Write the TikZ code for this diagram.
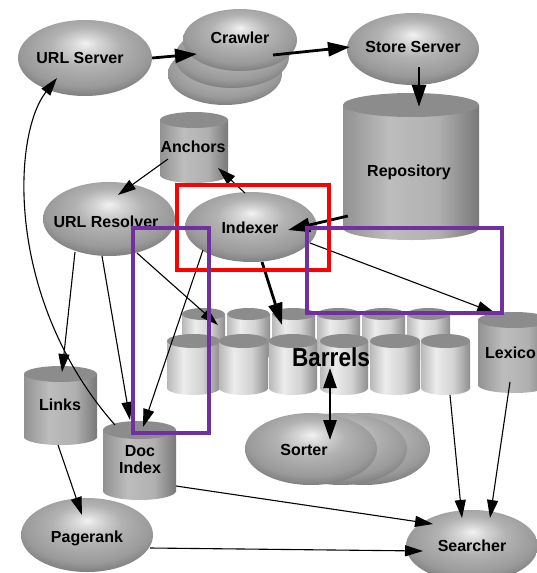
\documentclass[tikz,border=0pt]{standalone}
\usepackage{fontspec}
\setmainfont{Liberation Sans}
\usetikzlibrary{shapes.geometric,arrows.meta,calc}
\definecolor{ehl}{HTML}{F2F2F2}
\definecolor{ehltwo}{HTML}{D6D6D6}
\definecolor{emid}{HTML}{B2B2B2}
\definecolor{emidtwo}{HTML}{9A9A9A}
\definecolor{eedge}{HTML}{6C6C6C}
\definecolor{cylL}{HTML}{929292}
\definecolor{cylM}{HTML}{BDBDBD}
\definecolor{cylMtwo}{HTML}{B0B0B0}
\definecolor{cylR}{HTML}{787878}
\definecolor{barL}{HTML}{B8B8B8}
\definecolor{barM}{HTML}{ECECEC}
\definecolor{barMtwo}{HTML}{D2D2D2}
\definecolor{barR}{HTML}{8E8E8E}
\definecolor{cyltopc}{HTML}{8C8C8C}
\definecolor{annred}{HTML}{FF0000}
\definecolor{annpurple}{HTML}{7030A0}
\pgfdeclareradialshading{ellshade}{\pgfpoint{0bp}{10bp}}{color(0bp)=(ehl); color(5bp)=(ehltwo); color(13bp)=(emid); color(24bp)=(emidtwo); color(33bp)=(eedge); color(50bp)=(eedge)}
\pgfdeclarehorizontalshading{cylshade}{100bp}{color(0bp)=(cylL); color(25bp)=(cylL); color(42bp)=(cylM); color(60bp)=(cylMtwo); color(75bp)=(cylR); color(100bp)=(cylR)}
\pgfdeclarehorizontalshading{barshade}{100bp}{color(0bp)=(barL); color(25bp)=(barL); color(40bp)=(barM); color(58bp)=(barMtwo); color(75bp)=(barR); color(100bp)=(barR)}
\newcommand{\cylinderdraw}[6]{%
  \pgfmathsetmacro{\cylcx}{(#1+#2)/2}%
  \pgfmathsetmacro{\cylrx}{(#2-#1)/2}%
  \shade[shading=#6] (\cylcx,#4) ellipse[x radius=\cylrx, y radius=#5];
  \shade[shading=#6] (#1,#3) rectangle (#2,#4);
  \fill[cyltopc] (\cylcx,#3) ellipse[x radius=\cylrx, y radius=#5];
}
\begin{document}
\begin{tikzpicture}[x=1pt,y=-1pt,
  ell/.style={ellipse, shade, shading=ellshade, inner sep=0pt},
  cylnode/.style={rectangle, inner sep=0pt},
  lbl/.style={font=\bfseries\fontsize{16}{17}\selectfont, inner sep=0pt, align=center},
  thickarr/.style={line width=2.8pt, -{Triangle[length=22pt,width=14pt]}},
  thinarr/.style={line width=1.1pt, -{Triangle[length=18pt,width=11pt]}},
  dblarr/.style={line width=2.8pt, {Triangle[length=20pt,width=13pt]}-{Triangle[length=20pt,width=13pt]}},
  annframe/.style={line width=3.2pt},
]
\useasboundingbox (0,0) rectangle (537,573);
\fill[white] (0,0) rectangle (537,573);
\begin{scope}
\clip (0,0) rectangle (537,573);
% ellipses
\node[ell, minimum width=134pt, minimum height=76pt] (urlserver) at (85,58) {};
\shade[shading=ellshade] (225,74) ellipse[x radius=57, y radius=31];
\shade[shading=ellshade] (232,57) ellipse[x radius=57, y radius=31];
\node[ell, minimum width=114pt, minimum height=62pt] (crawler) at (240,40) {};
\node[ell, minimum width=132pt, minimum height=72pt] (storeserver) at (413,49) {};
\node[ell, minimum width=132pt, minimum height=74pt] (urlres) at (109,219) {};
\node[ell, minimum width=132pt, minimum height=70pt] (indexer) at (251,227) {};
\node[ell, minimum width=132pt, minimum height=74pt] (pagerank) at (87,535) {};
\node[ell, minimum width=132pt, minimum height=72pt] (searcher) at (472,546) {};
\shade[shading=ellshade] (364,449) ellipse[x radius=66, y radius=36];
\shade[shading=ellshade] (341,449) ellipse[x radius=66, y radius=36];
\node[ell, minimum width=132pt, minimum height=72pt] (sorter) at (311,449) {};
% cylinders
\cylinderdraw{343}{479}{105}{228}{12}{cylshade}
\node[cylnode, minimum width=136pt, minimum height=147pt] (repo) at (411,166.5) {};
\cylinderdraw{160}{228}{120}{175}{8}{cylshade}
\node[cylnode, minimum width=68pt, minimum height=71pt] (anchors) at (194,147.5) {};
\cylinderdraw{24}{97}{374}{437}{8}{cylshade}
\node[cylnode, minimum width=73pt, minimum height=79pt] (links) at (60.5,405.5) {};
\cylinderdraw{103}{176}{430}{491}{9}{cylshade}
\node[cylnode, minimum width=73pt, minimum height=79pt] (docindex) at (139.5,460.5) {};
\cylinderdraw{478}{550}{320}{385}{8}{cylshade}
\node[cylnode, minimum width=72pt, minimum height=81pt] (lexicon) at (514,352.5) {};
% barrels
\foreach \a/\b/\n in {182/225/bk1, 227/270/bk2, 272/315/bk3, 317/360/bk4, 362/405/bk5, 407/450/bk6} {
  \cylinderdraw{\a}{\b}{314}{355}{6}{barshade}
  \node[cylnode, minimum width={(\b-\a)*1pt}, minimum height=53pt] (\n) at ({(\a+\b)/2},334.5) {};
}
\foreach \a/\b/\n in {167/220/fr1, 219/268/fr2, 269/317/fr3, 320/368/fr4, 370/420/fr5, 421/470/fr6} {
  \cylinderdraw{\a}{\b}{341}{388}{7}{barshade}
  \node[cylnode, minimum width={(\b-\a)*1pt}, minimum height=61pt] (\n) at ({(\a+\b)/2},364.5) {};
}
% labels
\node[lbl] (turlserver) at (80,58) {URL Server};
\node[lbl] (tcrawler) at (240,38) {Crawler};
\node[lbl] (tstore) at (413,47) {Store Server};
\node[lbl] (trepo) at (409,172) {Repository};
\node[lbl] (tanchors) at (193,147) {Anchors};
\node[lbl] (turlres) at (106,222) {URL Resolver};
\node[lbl] (tindexer) at (250,228) {Indexer};
\node[lbl] (tlinks) at (60,405) {Links};
\node[lbl] (tdoc) at (140,460) {Doc\\Index};
\node[lbl] (tpagerank) at (87,538) {Pagerank};
\node[lbl] (tsearcher) at (472,546) {Searcher};
\node[lbl] (tsorter) at (304,450) {Sorter};
\node[lbl, anchor=west] (tlex) at (485,353) {Lexico};
\node[font=\bfseries\fontsize{26}{28}\selectfont, inner sep=0pt] (tbarrels) at (331,357) {\scalebox{0.87}[1]{Barrels}};
% connectors
\draw[thickarr] (urlserver.east) -- ($(crawler)+(-43,14)$);
\draw[thickarr] ($(crawler)+(33,15)$) -- ($(storeserver)+(-63,-2)$);
\draw[thickarr] ($(storeserver)+(6,18)$) -- ($(repo.north)+(8,14)$);
\draw[thickarr] ($(repo.west)+(5,49.5)$) -- ($(indexer)+(37,3)$);
\draw[thinarr] ($(indexer)+(-6,-34)$) -- ($(anchors)+(24,20.5)$);
\draw[thinarr] ($(anchors)+(-26,11.5)$) -- ($(urlres)+(9,-24)$);
\draw[thickarr] ($(indexer)+(11,35)$) -- ($(bk3)+(-11.5,-9.5)$);
\draw[thinarr] ($(indexer)+(59,16)$) -- ($(lexicon)+(-19,-39.5)$);
\draw[thinarr] ($(indexer)+(-48,23)$) -- ($(docindex)+(3.5,-33.5)$);
\draw[thinarr] ($(urlres)+(28,34)$) -- ($(bk1)+(14.5,-9.5)$);
\draw[thinarr] ($(urlres)+(-34,33)$) -- ($(links)+(1.5,-33.5)$);
\draw[thinarr] ($(urlres)+(-7,37)$) -- ($(docindex)+(-9.5,-40.5)$);
\draw[thinarr] ($(docindex)+(-24.5,-35.5)$) .. controls (5,300) and (12,135) .. ($(urlserver)+(-28,20)$);
\draw[thinarr] ($(links)+(-2.5,39.5)$) -- ($(pagerank)+(-5,-20)$);
\draw[thinarr] ($(docindex)+(36.5,25.5)$) -- ($(searcher)+(-39,-22)$);
\draw[thinarr] ($(pagerank)+(63,13)$) -- ($(searcher)+(-49,5)$);
\draw[thinarr] ($(fr6)+(4.5,30.5)$) -- ($(searcher)+(-10,-28)$);
\draw[thinarr] ($(lexicon)+(-4,29.5)$) -- ($(searcher)+(18,-28)$);
\draw[dblarr] ($(fr4)+(-14,3.5)$) -- ($(sorter)+(19,-9)$);
% annotation frames
\draw[annframe, annred] (177,185) rectangle (329,270);
\draw[annframe, annpurple] (133,228) rectangle (209,433);
\draw[annframe, annpurple] (307,228) rectangle (502,313);
\end{scope}
\end{tikzpicture}
\end{document}
